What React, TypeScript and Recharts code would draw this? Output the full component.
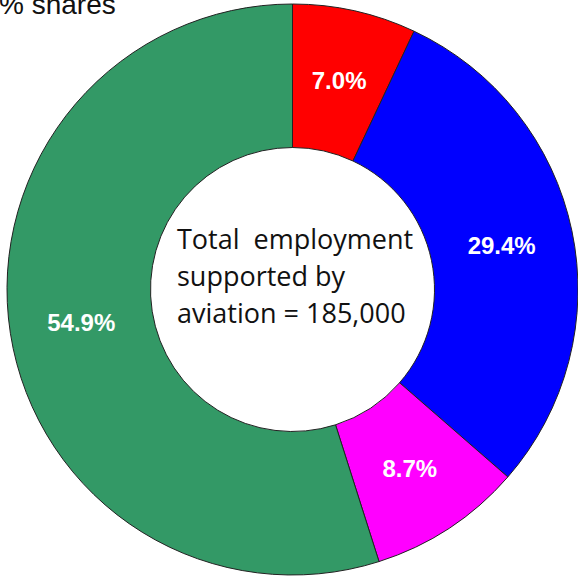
import { PieChart, Pie, Cell } from 'recharts'

const categories = ['Red', 'Blue', 'Magenta', 'Green']
const shares = [7.0, 29.4, 8.7, 54.9]
const colors = ['#ff0000', '#0000ff', '#ff00ff', '#339966']
const centerLines = ['Total  employment', 'supported by', 'aviation = 185,000']

const data = categories.map((name, i) => ({ name, value: shares[i] }))

const RADIAN = Math.PI / 180

const renderLabel = (props: any) => {
  const { cx, cy, midAngle, innerRadius, outerRadius, value } = props
  const r = (innerRadius + outerRadius) / 2
  const x = cx + r * Math.cos(-midAngle * RADIAN)
  const y = cy + r * Math.sin(-midAngle * RADIAN)
  return (
    <text
      x={x}
      y={y}
      fill="#ffffff"
      textAnchor="middle"
      dominantBaseline="central"
      fontFamily="Liberation Sans, Arial, sans-serif"
      fontWeight="bold"
      fontSize={24}
    >
      {`${value.toFixed(1)}%`}
    </text>
  )
}

export default function App() {
  return (
    <div style={{ position: 'absolute', left: 0, top: 0, width: 578, height: 579, background: '#fff', overflow: 'hidden' }}>
      <PieChart width={578} height={579} margin={{ top: 0, right: 0, bottom: 0, left: 0 }}>
        <Pie
          data={data}
          dataKey="value"
          cx={292.5}
          cy={289.5}
          innerRadius={142}
          outerRadius={285.5}
          startAngle={90}
          endAngle={-270}
          stroke="#222222"
          strokeWidth={1}
          label={renderLabel}
          labelLine={false}
          isAnimationActive={false}
        >
          {data.map((d, i) => (
            <Cell key={d.name} fill={colors[i]} />
          ))}
        </Pie>
      </PieChart>
      <svg width={578} height={579} style={{ position: 'absolute', left: 0, top: 0, pointerEvents: 'none' }}>
        <text x={-1} y={14} fontFamily="Liberation Sans, Arial, sans-serif" fontSize={28} fill="#111111">
          % shares
        </text>
        {centerLines.map((line, i) => (
          <text
            key={line}
            x={177}
            y={249 + i * 37}
            fontFamily="Open Sans, sans-serif"
            fontSize={27}
            fill="#111111"
            style={{ whiteSpace: 'pre' }}
          >
            {line}
          </text>
        ))}
      </svg>
    </div>
  )
}
